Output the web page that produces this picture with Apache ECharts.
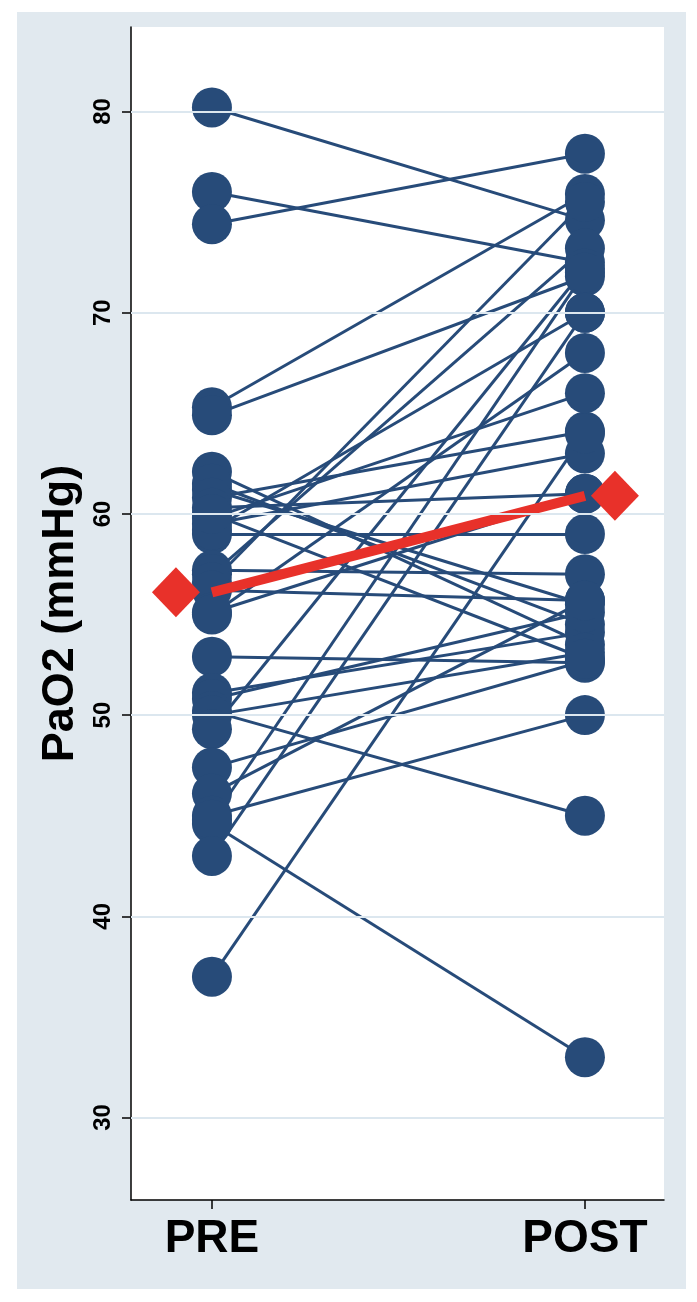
<!DOCTYPE html>
<html>
<head>
<meta charset="utf-8">
<title>PaO2 pre / post</title>
<script src="https://cdn.jsdelivr.net/npm/echarts@6/dist/echarts.min.js"></script>
<style>
    html, body { margin: 0; padding: 0; background: #ffffff; }
    #chart { width: 697px; height: 1302px; }
</style>
</head>
<body>
<div id="chart"></div>
<script>
// categories on the x axis (PRE at 1, POST at 2)
const categories = ['PRE', 'POST'];

// one entry per subject, same order in both arrays
const preValues = [
    80.2, 76.0, 74.4, 65.3, 64.9, 62.1, 61.2, 61.5, 60.8, 60.3,
    59.8, 59.5, 59.0, 59.2, 57.2, 57.0, 56.6, 56.2, 55.1, 55.0,
    52.9, 51.1, 50.8, 50.2, 50.0, 49.3, 47.4, 46.1, 45.0, 44.6,
    44.8, 43.0, 37.0, 60.0
];
const postValues = [
    74.6, 72.5, 77.9, 75.9, 71.8, 53.5, 55.5, 54.5, 64.1, 61.0,
    66.0, 63.0, 59.0, 70.0, 57.0, 73.2, 75.5, 55.7, 61.0, 68.0,
    52.6, 54.1, 55.1, 45.0, 53.1, 72.2, 52.7, 55.7, 50.0, 33.0,
    72.0, 70.0, 64.0, 52.8
];

// group means (red diamonds)
const meanValues = [56.1, 60.9];

// y tick labels
const yTicks = [30, 40, 50, 60, 70, 80];

const navy = '#274b79';
const red = '#e8312a';

const chart = echarts.init(document.getElementById('chart'), null, { renderer: 'canvas' });

const pairLines = preValues.map((p, i) => ({ coords: [[1, p], [2, postValues[i]]] }));
const dots = preValues.map((v) => [1, v]).concat(postValues.map((v) => [2, v]));
const meanLine = meanValues.map((v, i) => [i + 1, v]);
const meanMarks = meanValues.map((v, i) => ({
    value: [i + 1, v],
    symbolOffset: [i === 0 ? -36 : 30, 0]
}));

const option = {
    animation: false,
    backgroundColor: '#ffffff',
    graphic: [{
        type: 'rect',
        z: -10,
        shape: { x: 17, y: 12, width: 669, height: 1277 },
        style: { fill: '#e1e9ef' }
    }],
    grid: {
        left: 131,
        top: 27,
        width: 533,
        height: 1173,
        show: true,
        backgroundColor: '#ffffff',
        borderWidth: 0
    },
    xAxis: {
        type: 'value',
        min: 0.783,
        max: 2.212,
        axisLine: { show: true, lineStyle: { color: '#000', width: 1.5 } },
        axisTick: { show: true, customValues: [1, 2], length: 9, lineStyle: { color: '#000', width: 1.5 } },
        axisLabel: {
            customValues: [1, 2],
            formatter: (v) => categories[Math.round(v) - 1],
            fontFamily: 'Liberation Sans',
            fontWeight: 'bold',
            fontSize: 46,
            color: '#000',
            margin: 16
        },
        splitLine: { show: false }
    },
    yAxis: {
        type: 'value',
        min: 25.9,
        max: 84.2,
        name: 'PaO2 (mmHg)',
        nameLocation: 'middle',
        nameRotate: 90,
        nameGap: 43,
        nameTextStyle: {
            fontFamily: 'Liberation Sans',
            fontWeight: 'bold',
            fontSize: 45,
            color: '#000'
        },
        axisLine: { show: true, lineStyle: { color: '#000', width: 1.5 } },
        axisTick: { show: true, customValues: yTicks, length: 9, lineStyle: { color: '#000', width: 1.5 } },
        axisLabel: {
            customValues: yTicks,
            rotate: 90,
            fontFamily: 'Liberation Sans',
            fontWeight: 'bold',
            fontSize: 24,
            color: '#000',
            margin: 16
        },
        splitLine: { show: false }
    },
    series: [
        {
            // horizontal grid lines
            type: 'scatter',
            data: [],
            z: 1,
            markLine: {
                silent: true,
                symbol: 'none',
                label: { show: false },
                lineStyle: { color: '#dce7ef', width: 2, type: 'solid' },
                data: yTicks.map((v) => ({ yAxis: v }))
            }
        },
        {
            type: 'lines',
            coordinateSystem: 'cartesian2d',
            data: pairLines,
            z: 2,
            lineStyle: { color: navy, width: 3, opacity: 1 }
        },
        {
            type: 'scatter',
            data: dots,
            z: 3,
            symbol: 'circle',
            symbolSize: 40,
            itemStyle: { color: navy, opacity: 1 }
        },
        {
            type: 'line',
            data: meanLine,
            z: 4,
            showSymbol: false,
            symbol: 'none',
            lineStyle: { color: red, width: 10 }
        },
        {
            type: 'scatter',
            data: meanMarks,
            z: 5,
            symbol: 'diamond',
            symbolSize: [48, 50],
            itemStyle: { color: red, opacity: 1 }
        }
    ]
};

chart.setOption(option);
</script>
</body>
</html>
